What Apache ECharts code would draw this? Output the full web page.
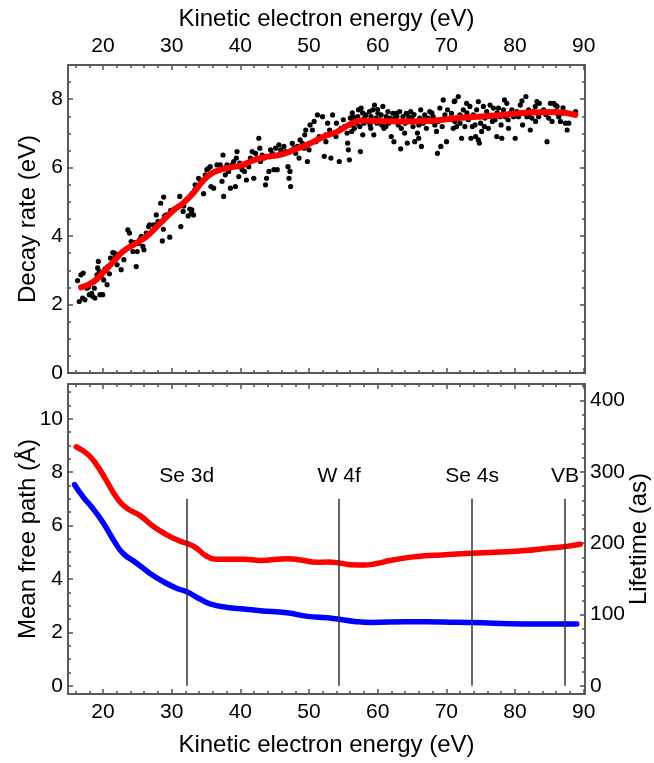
<!DOCTYPE html>
<html><head><meta charset="utf-8">
<script src="https://cdn.jsdelivr.net/npm/echarts@6/dist/echarts.min.js"></script>
<style>html,body{margin:0;padding:0;background:#fff}#c{width:654px;height:763px}</style>
</head><body><div id="c"></div><script>
// ---------- axis ranges & tick labels ----------
const xRange = [14.9, 90.2];
const xMajor = [20, 30, 40, 50, 60, 70, 80, 90];
const xMinor = [16, 18, 22, 24, 26, 28, 32, 34, 36, 38, 42, 44, 46, 48, 52, 54, 56, 58, 62, 64, 66, 68, 72, 74, 76, 78, 82, 84, 86, 88];
const decayRange = [0, 9];
const decayMajor = [0, 2, 4, 6, 8];
const decayMinor = [0.5, 1, 1.5, 2.5, 3, 3.5, 4.5, 5, 5.5, 6.5, 7, 7.5, 8.5];
const mfpRange = [-0.31, 11.3];
const mfpMajor = [0, 2, 4, 6, 8, 10];
const mfpMinor = [0.5, 1, 1.5, 2.5, 3, 3.5, 4.5, 5, 5.5, 6.5, 7, 7.5, 8.5, 9, 9.5, 10.5, 11];
const lifeRange = [-11.2, 423];
const lifeMajor = [0, 100, 200, 300, 400];
const lifeMinor = [20, 40, 60, 80, 120, 140, 160, 180, 220, 240, 260, 280, 320, 340, 360, 380, 420];

// ---------- data ----------
// measured decay rate points [kinetic energy (eV), decay rate (eV)]
const decayPoints = [
[16.29,2.70],[16.54,2.09],[16.78,2.87],[17.12,2.92],[17.03,2.19],[17.37,2.14],[17.66,2.48],[17.86,2.51],[18.0,2.29],[18.34,2.33],
[18.49,2.24],[18.73,2.48],[18.73,2.68],[18.83,2.19],[18.98,2.72],[19.12,2.87],[19.22,3.07],[19.32,3.26],[19.47,2.97],[19.56,2.29],
[19.71,2.82],[19.95,2.29],[20.1,2.72],[20.3,3.04],[20.59,2.58],[20.69,3.11],[20.93,2.9],[21.08,3.36],[21.42,3.52],[21.66,3.5],
[21.81,3.41],[22.05,3.16],[22.15,3.45],[22.64,3.02],[23.03,3.31],[23.62,4.18],[23.86,4.09],[24.1,3.84],[24.35,3.55],[24.59,3.81],
[24.84,3.11],[24.98,3.55],[25.18,3.79],[25.33,3.89],[25.57,3.99],[25.81,3.7],[25.96,3.6],[26.3,4.09],[26.64,4.28],[26.79,4.33],
[27.42,4.33],[27.76,4.62],[28.01,4.43],[28.4,4.96],[28.64,3.86],[28.79,4.2],[28.84,5.14],[28.98,4.59],[29.23,4.62],[29.72,3.97],
[29.86,4.75],[30.35,4.79],[31.18,5.16],[31.33,4.28],[31.67,4.72],[31.76,4.88],[32.16,5.06],[32.4,4.59],[32.64,4.79],[32.89,4.67],
[32.99,5.25],[33.37,5.35],[33.62,5.47],
[32.93,4.77],[33.18,4.62],[33.42,5.5],[33.91,5.69],[34.15,5.64],[34.64,5.24],[34.89,5.79],[35.13,5.94],[35.37,5.98],[35.62,6.03],
[35.72,5.45],[36.11,5.4],[36.35,5.89],[36.59,6.08],[37.08,6.08],[37.33,5.6],[37.47,6.37],[37.57,5.98],[37.57,5.16],[37.81,5.79],
[38.06,6.08],[38.3,5.89],[38.55,5.4],[38.79,6.08],[39.03,6.18],[39.28,5.45],[39.42,6.28],[39.52,6.47],[39.77,5.74],[39.91,6.13],
[40.01,6.03],[40.26,5.94],[40.5,6.08],[40.6,5.89],[40.89,5.64],[41.23,6.03],[41.47,6.28],[41.72,6.47],[41.96,5.69],[42.21,6.42],
[42.45,6.28],[42.69,6.86],[42.84,6.57],[42.94,6.18],[43.18,6.37],[43.43,6.28],[43.67,5.5],[43.82,5.69],[44.16,5.89],[44.4,6.52],
[44.65,6.42],[44.89,5.94],[45.13,6.57],[45.38,5.94],[45.62,6.67],[45.87,6.52],[46.11,6.42],[46.35,6.62],[46.6,6.47],[46.94,6.03],
[47.09,5.69],[47.23,5.89],[47.33,5.45],[47.57,6.71],[47.82,6.57],[48.06,6.42],[48.31,6.62],[48.55,6.28],[48.7,6.81],[49.04,6.71],
[49.28,6.57],[49.38,6.96],[49.53,7.1],[49.77,6.18],[50.01,6.52],[50.16,7.25],[50.5,7.1],[50.75,7.35],[50.99,6.76],[51.23,7.54],
[51.48,6.91],
[51.97,7.49],[52.22,6.33],[52.46,6.96],[52.46,6.76],[52.71,7.3],[53.19,6.28],[53.44,7.54],[53.93,6.91],[54.41,6.18],[54.66,7.15],
[55.15,7.2],[55.54,7.01],[55.63,6.72],[55.73,6.52],[55.88,6.23],[56.02,7.45],[56.12,7.25],[56.22,7.06],[56.37,7.49],[56.51,7.35],
[56.61,7.15],[56.85,7.45],[57.1,7.49],[57.2,7.69],[57.49,6.47],[57.59,7.74],[57.83,6.96],[58.07,7.45],[58.32,7.54],[58.56,7.35],
[58.81,7.64],[59.05,7.49],[59.3,7.69],[59.44,6.96],[59.54,7.83],[59.78,7.45],[60.03,7.59],[60.27,7.4],[60.51,7.54],[60.76,7.79],
[60.91,7.15],[61.0,7.35],[61.25,7.49],[61.49,7.64],[61.74,7.45],[61.98,6.91],[62.22,7.59],[62.37,6.76],[62.47,7.45],[62.71,7.59],
[62.96,7.35],[63.2,7.64],[63.35,6.55],[63.44,7.15],[63.69,7.49],[63.93,7.01],[64.17,7.59],[64.32,6.72],[64.52,7.49],[64.81,7.64],
[65.0,7.45],[65.15,7.2],[65.4,6.76],[65.64,7.35],[65.79,7.01],[65.98,6.86],[66.13,7.45],[66.27,7.69],[66.37,6.62],[66.62,7.3],
[66.86,7.54],[67.1,7.15],[67.35,7.45],[67.59,7.64],[67.84,7.35],[68.08,7.49],[68.33,7.25],[68.57,7.06],[68.71,6.42],[68.81,7.35],
[69.06,7.74],[69.2,6.62],[69.4,7.2],[69.55,7.98],[69.79,7.54],[70.03,6.76],[70.18,7.69],[70.52,7.45],[70.76,7.59],[71.01,7.15],
[71.15,7.93],[71.25,7.35],
[56.3,7.6],[56.9,7.3],[57.4,7.2],[58.0,7.3],[58.9,7.25],[59.9,7.3],[60.6,7.25],[61.6,7.3],[62.8,7.5],[64.0,7.3],[65.3,7.55],[66.7,7.4],
[71.0,7.4],[71.25,7.95],[71.49,7.2],[71.74,8.08],[71.98,7.54],[72.22,6.86],[72.47,7.69],[72.71,7.2],[72.96,7.88],[73.2,7.4],
[73.44,7.79],[73.59,6.86],[73.79,7.2],[73.93,7.54],[74.18,7.25],[74.27,6.91],[74.42,7.69],[74.66,7.93],[74.66,6.81],[74.81,6.72],
[74.91,7.49],[75.15,7.06],[75.4,7.79],[75.54,7.2],[75.64,7.45],[75.88,7.64],[76.13,7.15],[76.37,7.83],[76.62,7.49],[76.71,7.35],
[76.86,7.74],[77.1,7.4],[77.35,6.91],[77.59,7.74],[77.84,7.49],[77.98,7.25],[78.08,6.86],[78.32,7.69],[78.47,7.98],[78.57,7.49],
[78.81,7.88],[79.06,7.15],[79.3,7.59],[79.55,7.69],[79.79,7.49],[80.03,6.86],[80.28,7.64],[80.52,7.49],[80.77,7.83],[81.01,7.95],
[81.11,7.25],[81.4,7.59],[81.59,8.08],[81.74,7.49],[81.99,7.69],[82.23,7.1],[82.47,7.45],[82.72,7.64],[82.96,7.79],[83.2,7.93],
[83.45,7.49],[83.55,7.88],[83.94,7.64],[84.18,7.69],[84.67,6.76],[84.91,7.45],[85.16,7.88],[85.4,7.35],[85.65,7.88],[85.89,7.83],
[86.13,7.79],[86.38,7.49],[86.62,7.35],[86.86,7.59],[87.35,7.3],[87.6,7.1],[87.84,7.3],[88.82,7.64],
[72.0,7.3],[73.0,7.6],[75.0,7.3],[76.0,7.55],[77.4,7.6],[79.0,7.4],[80.0,7.55],[82.0,7.5],[83.0,7.35],[84.5,7.55],[86.0,7.6],[87.0,7.75],
[53.0,7.1],[54.0,7.3],[55.0,7.4],[57.8,7.6],[59.0,7.15],[60.0,7.7],[61.2,7.2],[62.0,7.4],[63.0,7.25],[64.6,7.4],[66.0,7.25],[67.9,7.6]
];
// smooth fit of decay rate
const fitE = [16.8,18.5,20.0,21.5,22.9,24.9,26.4,28.3,30.2,31.7,33.2,34.6,36.1,38.1,40.0,41.5,43.4,45.9,47.8,49.8,52.2,54.2,56.1,57.6,61.0,64.4,68.3,71.7,75.6,79.1,82.0,85.9,88.8];
const fitG = [2.5,2.65,2.93,3.25,3.55,3.8,4.0,4.37,4.74,4.97,5.27,5.62,5.86,5.99,6.06,6.18,6.3,6.38,6.52,6.68,6.91,7.06,7.28,7.38,7.36,7.35,7.38,7.45,7.5,7.56,7.61,7.63,7.54];
// mean free path (Å), red
const mfpE = [16.1,17.8,19.0,20.5,22.0,23.4,25.4,27.3,29.3,31.0,32.2,33.4,35.1,36.6,40.5,42.9,46.9,48.8,51.2,52.7,54.4,56.1,58.1,59.5,62.0,64.4,66.9,69.3,73.7,77.1,81.5,84.4,87.3,89.5];
const mfpV = [8.95,8.66,8.3,7.68,7.04,6.66,6.37,5.97,5.65,5.44,5.33,5.19,4.85,4.74,4.74,4.69,4.76,4.71,4.62,4.63,4.6,4.53,4.52,4.56,4.7,4.8,4.87,4.9,4.96,5.0,5.06,5.14,5.21,5.3];
// lifetime (as), blue
const lifeE = [15.86,17.1,18.5,20.0,21.5,22.9,24.9,26.8,28.8,30.7,32.2,33.7,35.6,38.1,40.5,42.9,46.8,49.8,52.7,54.4,56.6,59.0,64.4,69.3,73.7,81.5,89.0];
const lifeV = [282,265,249,229,205,186,172,158,146,137,132,124,115,110,108,105.5,102.5,97.5,95.5,93.5,90.5,89,90,89.8,88.8,87,87];
// core level markers
const markerNames = ['Se 3d', 'W 4f', 'Se 4s', 'VB'];
const markerE = [32.2, 54.4, 73.75, 87.3];
const markerTop = 7;
const markerLabelY = 7.85;

// ---------- chart ----------
const FONT = '"Liberation Sans", Arial, sans-serif';
const TXT = '#000';
const axLine = {color: '#505050', width: 1.5};

function axis(kind, grid, pos, range, ticks, len, labels, extra) {
  const a = {
    type: 'value', gridIndex: grid, position: pos, min: range[0], max: range[1],
    nameMoveOverlap: false,
    axisLine: {show: true, onZero: false, lineStyle: axLine},
    axisTick: {show: true, inside: true, length: len, customValues: ticks, lineStyle: axLine},
    axisLabel: labels ? {show: true, customValues: labels, fontSize: 21, color: TXT, fontFamily: FONT, margin: (kind === 'x' ? 8 : 5)} : {show: false},
    splitLine: {show: false}
  };
  return Object.assign(a, extra || {});
}
const nameStyle = {fontSize: 24, color: TXT, fontFamily: FONT};
const xName = 'Kinetic electron energy (eV)';

const xAxes = [
  axis('x', 0, 'bottom', xRange, xMajor, 5, null),
  axis('x', 0, 'top', xRange, xMajor, 5, xMajor, {name: xName, nameLocation: 'middle', nameGap: 34, nameTextStyle: nameStyle}),
  axis('x', 0, 'bottom', xRange, xMinor, 3, null),
  axis('x', 0, 'top', xRange, xMinor, 3, null),
  axis('x', 1, 'bottom', xRange, xMajor, 5, xMajor, {name: xName, nameLocation: 'middle', nameGap: 39, nameTextStyle: nameStyle}),
  axis('x', 1, 'top', xRange, xMajor, 5, null),
  axis('x', 1, 'bottom', xRange, xMinor, 3, null),
  axis('x', 1, 'top', xRange, xMinor, 3, null)
];
const yAxes = [
  axis('y', 0, 'left', decayRange, decayMajor, 5, decayMajor, {name: 'Decay rate (eV)', nameLocation: 'middle', nameGap: 28, nameRotate: 90, nameTextStyle: nameStyle}),
  axis('y', 0, 'right', decayRange, decayMajor, 5, null),
  axis('y', 0, 'left', decayRange, decayMinor, 3, null),
  axis('y', 0, 'right', decayRange, decayMinor, 3, null),
  axis('y', 1, 'left', mfpRange, mfpMajor, 5, mfpMajor, {name: 'Mean free path (Å)', nameLocation: 'middle', nameGap: 28, nameRotate: 90, nameTextStyle: nameStyle}),
  axis('y', 1, 'right', lifeRange, lifeMajor, 5, lifeMajor, {name: 'Lifetime (as)', nameLocation: 'middle', nameGap: 42, nameRotate: 90, nameTextStyle: nameStyle}),
  axis('y', 1, 'left', mfpRange, mfpMinor, 3, null),
  axis('y', 1, 'right', lifeRange, lifeMinor, 3, null)
];

const zip = (a, b) => a.map((v, i) => [v, b[i]]);

const option = {
  animation: false,
  backgroundColor: '#fff',
  grid: [
    {left: 68, right: 69, top: 65, height: 308, containLabel: false, outerBoundsMode: 'none'},
    {left: 68, right: 69, top: 384, height: 310, containLabel: false, outerBoundsMode: 'none'}
  ],
  xAxis: xAxes,
  yAxis: yAxes,
  series: [
    {type: 'scatter', xAxisIndex: 0, yAxisIndex: 0, data: decayPoints, symbolSize: 5.2,
     itemStyle: {color: '#000', opacity: 1}, silent: true, z: 3},
    {type: 'line', xAxisIndex: 0, yAxisIndex: 0, data: zip(fitE, fitG), symbol: 'none',
     smooth: 0.5, lineStyle: {color: '#ff0000', width: 6, cap: 'round', join: 'round'}, z: 4},
    {type: 'line', xAxisIndex: 4, yAxisIndex: 4, data: zip(mfpE, mfpV), symbol: 'none',
     smooth: 0.5, lineStyle: {color: '#ff0000', width: 5.5, cap: 'round', join: 'round'}, z: 4,
     markLine: {symbol: 'none', silent: true, label: {show: false},
       lineStyle: {color: '#333', width: 1.5, type: 'solid'},
       data: markerE.map(e => [{coord: [e, 0]}, {coord: [e, markerTop]}])}},
    {type: 'line', xAxisIndex: 4, yAxisIndex: 5, data: zip(lifeE, lifeV), symbol: 'none',
     smooth: 0.5, lineStyle: {color: '#0000ff', width: 5.5, cap: 'round', join: 'round'}, z: 4},
    {type: 'scatter', xAxisIndex: 4, yAxisIndex: 4, symbolSize: 0, itemStyle: {color: '#000', opacity: 0}, silent: true,
     data: markerE.map((e, i) => ({name: markerNames[i], value: [e, markerLabelY]})),
     label: {show: true, position: 'inside', formatter: '{b}', fontSize: 21, color: TXT, opacity: 1,
       textBorderWidth: 0, fontFamily: FONT}}
  ]
};
const chart = echarts.init(document.getElementById('c'), null, {renderer: 'canvas'});
chart.setOption(option);
</script></body></html>
